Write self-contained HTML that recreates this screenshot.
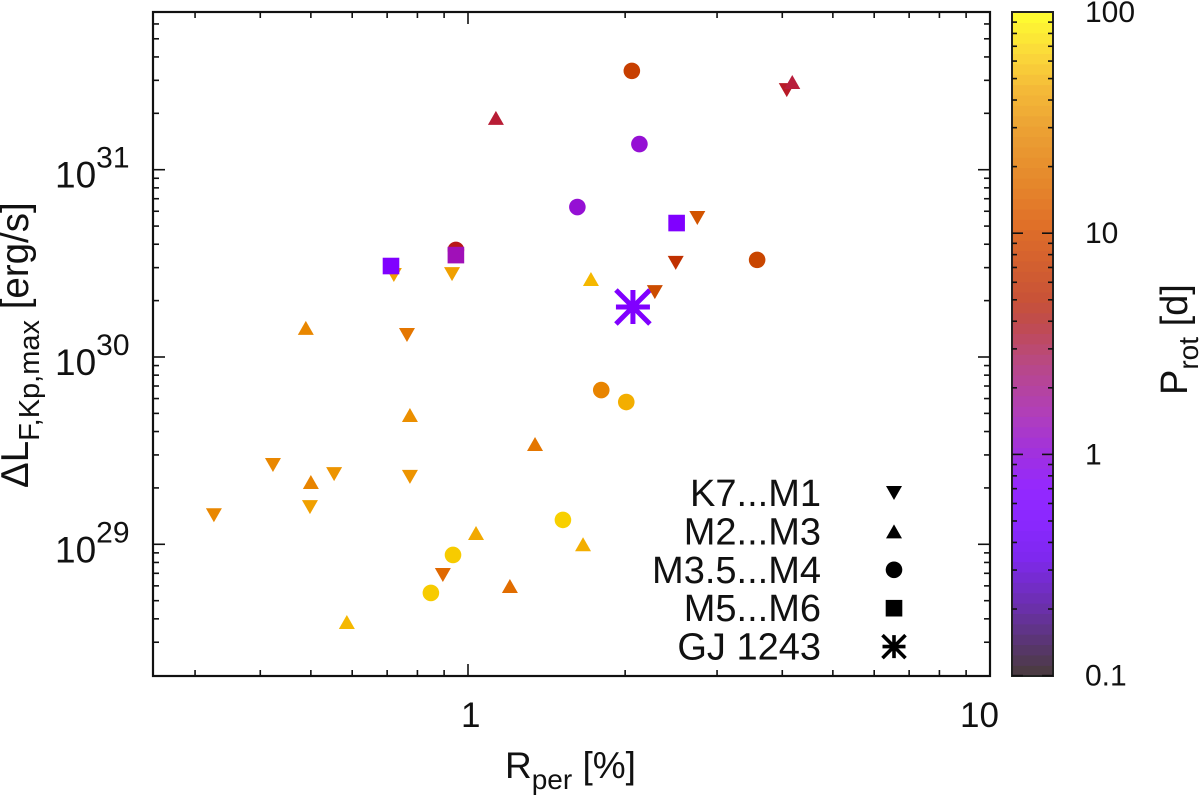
<!DOCTYPE html>
<html>
<head>
<meta charset="utf-8">
<title>Flare luminosity vs rotation amplitude</title>
<style>
html,body{margin:0;padding:0;background:#fff;}
svg{display:block;filter:blur(0.35px);}
text{font-family:"Liberation Sans",sans-serif;fill:#111;}
</style>
</head>
<body>
<svg id="chart" width="1200" height="795" viewBox="0 0 1200 795" xmlns="http://www.w3.org/2000/svg">
  <rect x="0" y="0" width="1200" height="795" fill="#fff"/>
  <g id="colorbar"></g>
  <g id="ticks"></g>
  <rect x="153" y="12" width="837" height="664" fill="none" stroke="#111" stroke-width="2.2"/>
  <g id="labels"></g>
  <g id="marks"></g>
  <g id="legend"></g>
  <text x="505" y="778" font-size="37">R<tspan font-size="28" dy="11">per</tspan><tspan dy="-11"> [%]</tspan></text>
  <text transform="translate(28,488) rotate(-90)" font-size="38.5">ΔL<tspan font-size="29" dy="11">F,Kp,max</tspan><tspan dy="-11"> [erg/s]</tspan></text>
  <text transform="translate(1187,395) rotate(-90)" font-size="38">P<tspan font-size="28" dy="11">rot</tspan><tspan dy="-11"> [d]</tspan></text>
</svg>
<script>
// Series values: rotation amplitude [%], flare luminosity [erg/s], rotation period [d]
var k7M1Rper = [0.326, 0.423, 0.498, 0.554, 0.774, 0.764, 0.721, 0.932, 0.895, 2.28, 2.50, 2.75, 4.08];
var k7M1Lum = [1.43e29, 2.65e29, 1.58e29, 2.37e29, 2.29e29, 1.31e30, 2.74e30, 2.77e30, 6.86e28, 2.22e30, 3.18e30, 5.52e30, 2.66e31];
var k7M1Prot = [19, 19, 30, 24, 24, 14, 30, 30, 11, 7, 5, 8, 3.5];

var m2M3Rper = [0.489, 0.774, 0.500, 1.344, 1.036, 1.203, 1.661, 0.586, 1.72, 1.131, 4.18];
var m2M3Lum = [1.43e30, 4.90e29, 2.15e29, 3.43e29, 1.149e29, 5.99e28, 1.0e29, 3.85e28, 2.61e30, 1.89e31, 2.94e31];
var m2M3Prot = [19, 22, 18, 14, 35, 12, 38, 45, 45, 3, 2.8];

var m35M4Rper = [2.06, 2.13, 1.62, 0.948, 3.58, 1.80, 2.01, 1.52, 0.936, 0.849];
var m35M4Lum = [3.37e31, 1.37e31, 6.32e30, 3.73e30, 3.30e30, 6.66e29, 5.75e29, 1.35e29, 8.77e28, 5.50e28];
var m35M4Prot = [6, 1.05, 1.05, 4, 6.5, 18, 38, 65, 60, 60];

var m5M6Rper = [0.712, 0.948, 2.51];
var m5M6Lum = [3.06e30, 3.50e30, 5.19e30];
var m5M6Prot = [0.6, 1.5, 0.6];

var gjRper = [2.07];
var gjLum = [1.85e30];
var gjProt = [0.6];

// Tick labels
var xTickValues = [1, 10];
var xTickLabels = ["1", "10"];
var yTickExponents = [29, 30, 31];
var cbTickValues = [0.1, 1, 10, 100];
var cbTickLabels = ["0.1", "1", "10", "100"];

// Legend
var legendLabels = ["K7...M1", "M2...M3", "M3.5...M4", "M5...M6", "GJ 1243"];
var legendShapes = ["down", "up", "circle", "square", "star"];

// Colour palette: period and colour lists (marks and the softer colorbar rendering)
var palettePeriods = [0.1, 0.2, 0.35, 0.5, 0.7, 1, 1.5, 2.5, 4, 5, 7, 11, 18, 30, 45, 65, 100];
var paletteColors = ["#453a3a", "#6a30b0", "#7a20e8", "#8000ff", "#8000ff", "#9410d8", "#a010b8", "#b82048", "#b81818", "#c03000", "#cc4c00", "#e06800", "#e88400", "#f0a000", "#f5b800", "#f8d000", "#ffff20"];
var colorbarColors = ["#4a3c3c", "#6a30a8", "#7f28f0", "#8a28ff", "#9428ff", "#a030e0", "#b03ebc", "#b84888", "#c04c4c", "#c85238", "#d25e30", "#e07028", "#e68a2c", "#eca234", "#f4ba38", "#fbd83a", "#ffff30"];

// Axis geometry
var plotLeft = 153, plotRight = 990, plotTop = 12, plotBottom = 676;
var cbLeft = 1012, cbRight = 1053;

function xScale(v) { return 990 + 522 * (Math.log10(v) - 1); }
function yScale(v) { return 544.3 - 187.3 * (Math.log10(v) - 29); }
function cbScale(v) { return 675.6 - 221.2 * (Math.log10(v) + 1); }

function hexToRgb(h) {
  return [parseInt(h.substr(1, 2), 16), parseInt(h.substr(3, 2), 16), parseInt(h.substr(5, 2), 16)];
}
function paletteRgb(p, colors) {
  var lp = Math.log10(p);
  var n = palettePeriods.length;
  if (p <= palettePeriods[0]) return hexToRgb(colors[0]);
  if (p >= palettePeriods[n - 1]) return hexToRgb(colors[n - 1]);
  for (var i = 0; i < n - 1; i++) {
    var a = Math.log10(palettePeriods[i]), b = Math.log10(palettePeriods[i + 1]);
    if (lp >= a && lp <= b) {
      var t = (lp - a) / (b - a);
      var c0 = hexToRgb(colors[i]), c1 = hexToRgb(colors[i + 1]);
      return [0, 1, 2].map(function (k) { return Math.round(c0[k] + (c1[k] - c0[k]) * t); });
    }
  }
}
function paletteColor(p) {
  var c = paletteRgb(p, paletteColors);
  return "rgb(" + c[0] + "," + c[1] + "," + c[2] + ")";
}

var SVGNS = "http://www.w3.org/2000/svg";
function make(tag, parent, attrs) {
  var el = document.createElementNS(SVGNS, tag);
  for (var k in attrs) el.setAttribute(k, attrs[k]);
  parent.appendChild(el);
  return el;
}

function drawMarker(parent, shape, cx, cy, color, starR, starW) {
  var el;
  if (shape === "down") {
    el = make("polygon", parent, { points: (cx - 8) + "," + (cy - 7) + " " + (cx + 8) + "," + (cy - 7) + " " + cx + "," + (cy + 7), fill: color });
  } else if (shape === "up") {
    el = make("polygon", parent, { points: (cx - 8) + "," + (cy + 7) + " " + (cx + 8) + "," + (cy + 7) + " " + cx + "," + (cy - 7), fill: color });
  } else if (shape === "circle") {
    el = make("circle", parent, { cx: cx, cy: cy, r: 8.3, fill: color });
  } else if (shape === "square") {
    el = make("rect", parent, { x: cx - 8.3, y: cy - 8.3, width: 16.6, height: 16.6, fill: color });
  } else {
    var r = starR;
    var d = "M" + (cx - r) + " " + cy + "H" + (cx + r) +
            "M" + cx + " " + (cy - r) + "V" + (cy + r) +
            "M" + (cx - r) + " " + (cy - r) + "L" + (cx + r) + " " + (cy + r) +
            "M" + (cx - r) + " " + (cy + r) + "L" + (cx + r) + " " + (cy - r);
    el = make("path", parent, { d: d, stroke: color, "stroke-width": starW, fill: "none" });
  }
  return el;
}

// Colorbar
var cbGroup = document.getElementById("colorbar");
var bandCount = 64;
for (var b = 0; b < bandCount; b++) {
  var lpLow = -1 + 3 * b / bandCount;
  var lpHigh = -1 + 3 * (b + 1) / bandCount;
  var rgb = paletteRgb(Math.pow(10, (lpLow + lpHigh) / 2), colorbarColors);
  var col = "rgb(" + rgb.join(",") + ")";
  var yHigh = cbScale(Math.pow(10, lpHigh));
  var yLow = cbScale(Math.pow(10, lpLow));
  var band = make("rect", cbGroup, { x: cbLeft, y: yHigh, width: cbRight - cbLeft, height: yLow - yHigh + 0.6, fill: col });
  
  
}
var cbFrame = make("rect", cbGroup, { x: cbLeft, y: plotTop, width: cbRight - cbLeft, height: plotBottom - plotTop, fill: "none", stroke: "#222", "stroke-width": 2 });



// Ticks
var tickGroup = document.getElementById("ticks");
function tickLine(x1, y1, x2, y2, name) {
  var t = make("line", tickGroup, { x1: x1, y1: y1, x2: x2, y2: y2, stroke: "#111", "stroke-width": 1.6 });
  
  
}
for (var dx = -1; dx <= 1; dx++) {
  for (var m = 1; m <= 9; m++) {
    var xv = m * Math.pow(10, dx);
    var px = xScale(xv);
    if (px < plotLeft + 1 || px > plotRight - 1) continue;
    var lenX = m === 1 ? 12 : 6;
    tickLine(px, plotBottom, px, plotBottom - lenX, "x-tick");
    tickLine(px, plotTop, px, plotTop + lenX, "x-tick-top");
  }
}
for (var dy = 28; dy <= 31; dy++) {
  for (var my = 1; my <= 9; my++) {
    var yv = my * Math.pow(10, dy);
    var py = yScale(yv);
    if (py < plotTop + 1 || py > plotBottom - 1) continue;
    var lenY = my === 1 ? 12 : 6;
    tickLine(plotLeft, py, plotLeft + lenY, py, "y-tick");
    tickLine(plotRight, py, plotRight - lenY, py, "y-tick-right");
  }
}
for (var dc = -1; dc <= 1; dc++) {
  for (var mc = 1; mc <= 9; mc++) {
    var cv = mc * Math.pow(10, dc);
    var pc = cbScale(cv);
    var lenC = mc === 1 ? 11 : 5;
    tickLine(cbLeft, pc, cbLeft + lenC, pc, "colorbar-tick");
    tickLine(cbRight, pc, cbRight - lenC, pc, "colorbar-tick-right");
  }
}

// Tick labels
var labelGroup = document.getElementById("labels");
xTickValues.forEach(function (v, i) {
  var t = make("text", labelGroup, { x: xScale(v) - (i === 0 ? 7 : 30), y: 727, "font-size": 35 });
  
  
  t.textContent = xTickLabels[i];
});
yTickExponents.forEach(function (e) {
  var yPos = yScale(Math.pow(10, e));
  var t = make("text", labelGroup, { x: 55, y: yPos + 18, "font-size": 37 });
  
  
  t.textContent = "10";
  var s = make("tspan", t, { "font-size": 30, dy: -20 });
  s.textContent = String(e);
});
cbTickValues.forEach(function (v, i) {
  var t = make("text", labelGroup, { x: 1085, y: cbScale(v) + 10, "font-size": 30 });
  
  
  t.textContent = cbTickLabels[i];
});

// Data marks (drawn back to front)
var markGroup = document.getElementById("marks");
function drawSeries(name, shape, rper, lum, prot) {
  rper.forEach(function (r, i) {
    var mk = drawMarker(markGroup, shape, xScale(r), yScale(lum[i]), paletteColor(prot[i]), 17, 5);
    
    
  });
}
drawSeries("point-gj-1243", "star", gjRper, gjLum, gjProt);
drawSeries("point-k7-m1", "down", k7M1Rper, k7M1Lum, k7M1Prot);
drawSeries("point-m2-m3", "up", m2M3Rper, m2M3Lum, m2M3Prot);
drawSeries("point-m35-m4", "circle", m35M4Rper, m35M4Lum, m35M4Prot);
drawSeries("point-m5-m6", "square", m5M6Rper, m5M6Lum, m5M6Prot);

// Legend
var legendGroup = document.getElementById("legend");
var legendTop = 493, legendStep = 38.4;
legendLabels.forEach(function (label, i) {
  var ly = legendTop + i * legendStep;
  var t = make("text", legendGroup, { x: 821, y: ly + 13, "font-size": 38, "text-anchor": "end" });
  
  
  t.textContent = label;
  var sym = drawMarker(legendGroup, legendShapes[i], 894, ly, "#000", 11.5, 3.6);
  
  
});
</script>
</body>
</html>
